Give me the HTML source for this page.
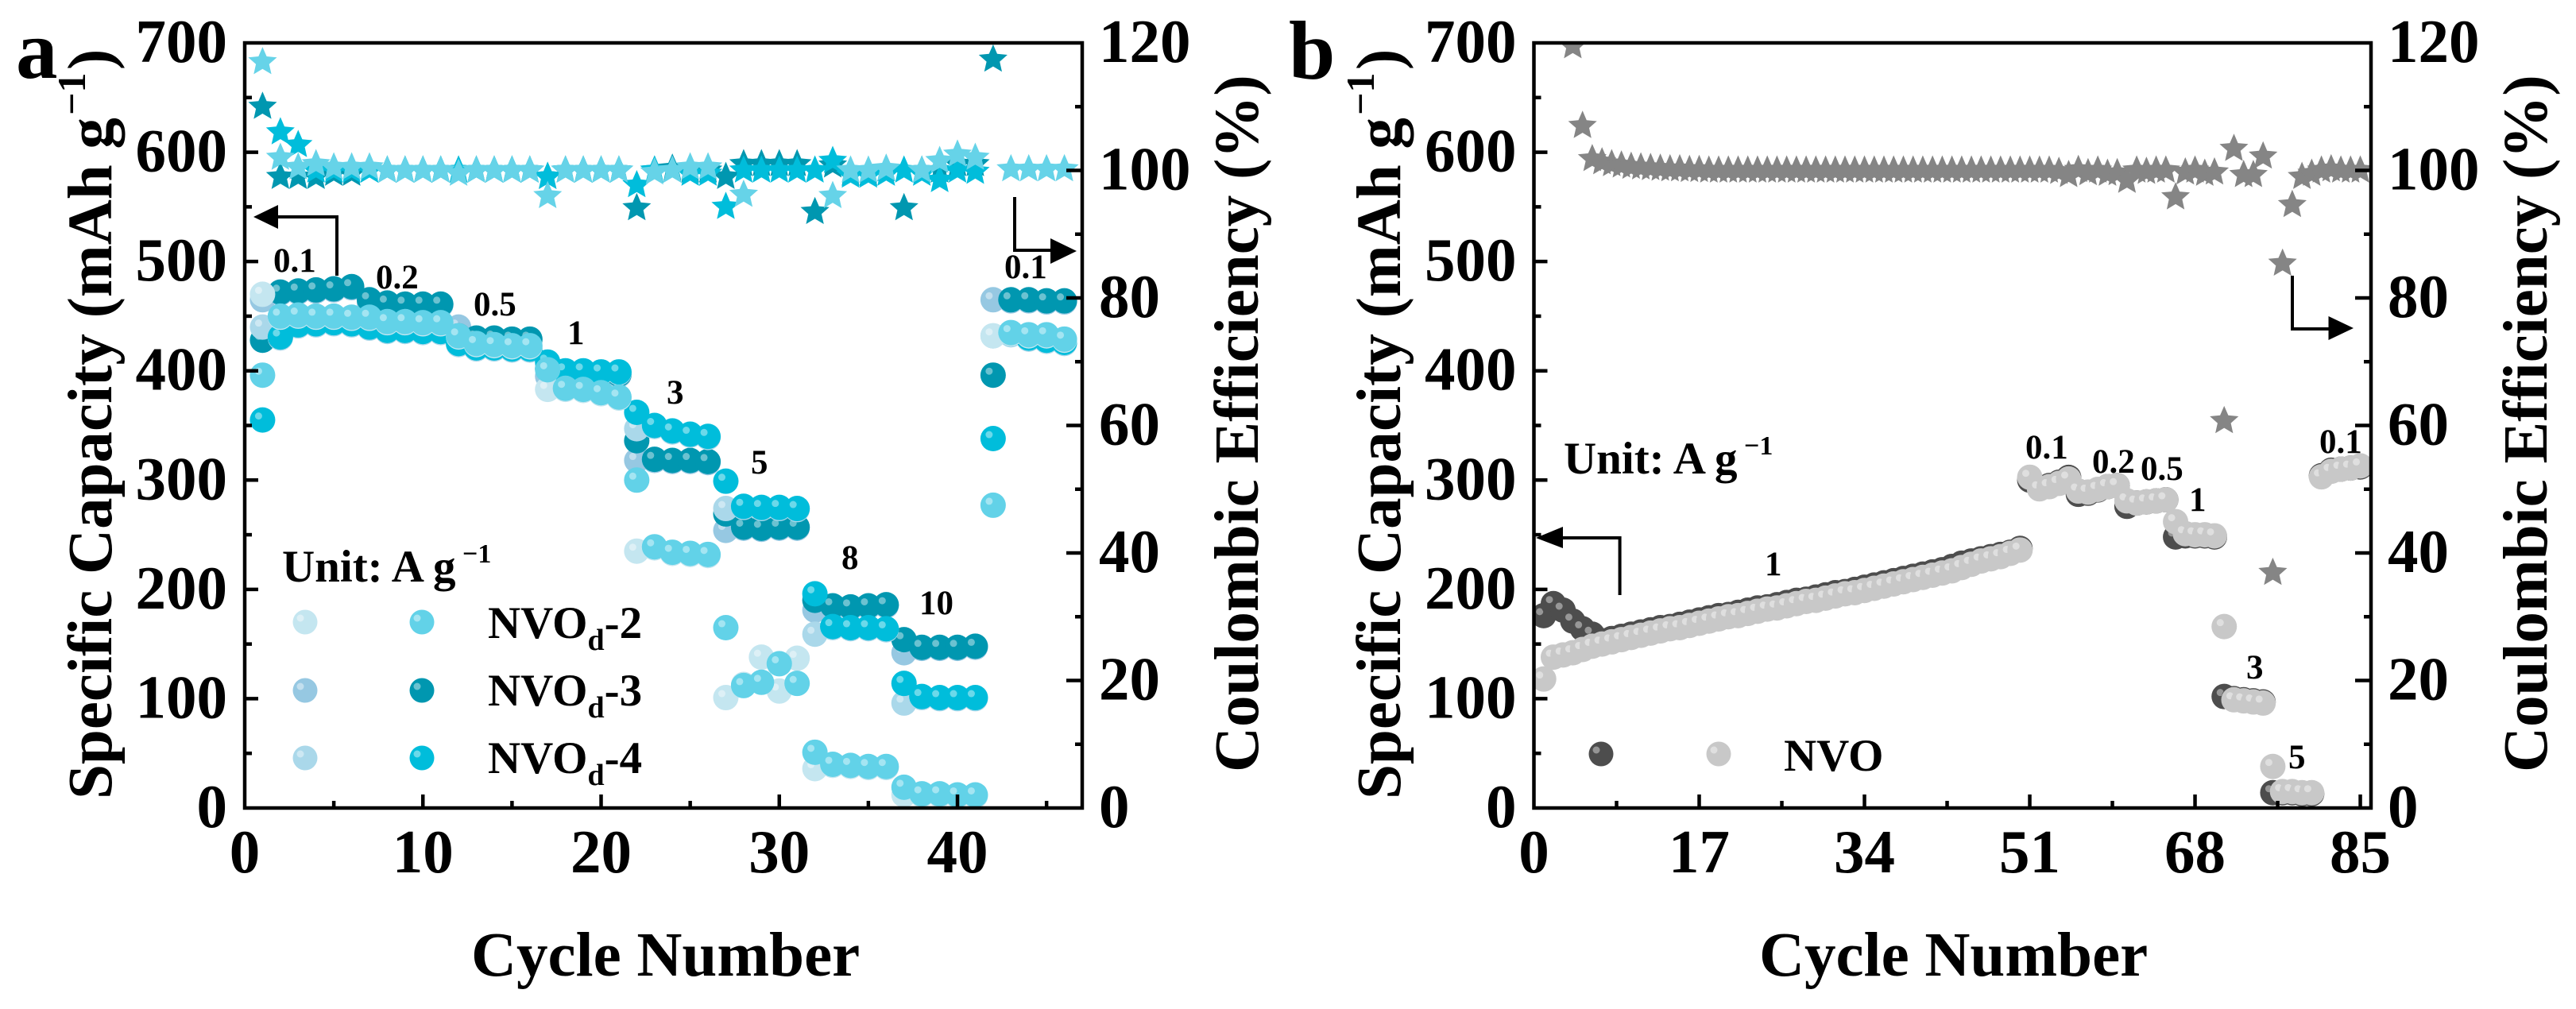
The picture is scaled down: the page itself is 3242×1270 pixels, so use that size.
<!DOCTYPE html>
<html lang="en">
<head>
<meta charset="utf-8">
<title>Rate performance and Coulombic efficiency of NVOd and NVO</title>
<style>
html,body{margin:0;padding:0;background:#fff;}
svg{display:block;}
text{font-family:"Liberation Serif",serif;font-weight:bold;fill:#000;}
.tick{font-size:77px;}
.title{font-size:79px;}
.sup{font-size:50px;}
.ann{font-size:43px;}
.leg{font-size:57px;}
.legsub{font-size:38px;}
.usup{font-size:34px;}
.letter{font-size:105px;}
.arr{fill:none;stroke:#000;stroke-width:4;}
</style>
</head>
<body>
<svg id="figure" xmlns="http://www.w3.org/2000/svg" width="3242" height="1270" viewBox="0 0 3242 1270">
  <defs>
    <clipPath id="clip-a"><rect x="308" y="54" width="1054" height="963"/></clipPath>
    <clipPath id="clip-b"><rect x="1930.5" y="54" width="1053.5" height="963"/></clipPath>
  </defs>
  <rect x="0" y="0" width="3242" height="1270" fill="#fff"/>

  <g id="marks-a" clip-path="url(#clip-a)"></g>
  <g id="marks-b" clip-path="url(#clip-b)"></g>
  <g id="axes"></g>

  <!-- Panel a text -->
  <text class="letter" x="20" y="98">a</text>
  <text class="title" transform="translate(140,1006) rotate(-90)">Specific Capacity (mAh g</text>
  <text class="sup" transform="translate(107,145) rotate(-90)">−1</text>
  <text class="title" transform="translate(140,88) rotate(-90)">)</text>
  <text class="title" transform="translate(1583,972) rotate(-90)">Coulombic Efficiency (%)</text>
  <text class="title" x="593" y="1228">Cycle Number</text>

  <text class="ann" x="344" y="342">0.1</text>
  <text class="ann" x="473" y="363">0.2</text>
  <text class="ann" x="596" y="397">0.5</text>
  <text class="ann" x="714" y="433">1</text>
  <text class="ann" x="839" y="508">3</text>
  <text class="ann" x="945" y="596">5</text>
  <text class="ann" x="1059" y="716">8</text>
  <text class="ann" x="1157" y="773">10</text>
  <text class="ann" x="1264" y="350">0.1</text>

  <text class="leg" x="355" y="732">Unit: A g</text>
  <text class="usup" x="582" y="708">−1</text>

  <g>
    <circle cx="384" cy="783" r="15.5" fill="#c4e6f0"/><circle cx="378" cy="778" r="4.5" fill="#fff" opacity=".42"/>
    <circle cx="531" cy="783" r="15.5" fill="#62d2e8"/><circle cx="525" cy="778" r="4.5" fill="#fff" opacity=".42"/>
    <text class="leg" x="614" y="803">NVO<tspan class="legsub" dy="15">d</tspan><tspan dy="-15">-2</tspan></text>
  </g>
  <g>
    <circle cx="384" cy="869" r="15.5" fill="#96c8e2"/><circle cx="378" cy="864" r="4.5" fill="#fff" opacity=".42"/>
    <circle cx="531" cy="869" r="15.5" fill="#0097b0"/><circle cx="525" cy="864" r="4.5" fill="#fff" opacity=".42"/>
    <text class="leg" x="614" y="888">NVO<tspan class="legsub" dy="15">d</tspan><tspan dy="-15">-3</tspan></text>
  </g>
  <g>
    <circle cx="384" cy="954" r="15.5" fill="#aad8ea"/><circle cx="378" cy="949" r="4.5" fill="#fff" opacity=".42"/>
    <circle cx="531" cy="954" r="15.5" fill="#00bddb"/><circle cx="525" cy="949" r="4.5" fill="#fff" opacity=".42"/>
    <text class="leg" x="614" y="973">NVO<tspan class="legsub" dy="15">d</tspan><tspan dy="-15">-4</tspan></text>
  </g>

  <g>
    <path class="arr" d="M424 347 V273 H345"/><path d="M319 273 L350 258 V288 Z" fill="#000"/>
  </g>
  <g>
    <path class="arr" d="M1277 248 V315 H1328"/><path d="M1355 316 L1322 300 V332 Z" fill="#000"/>
  </g>

  <!-- Panel b text -->
  <text class="letter" x="1622" y="99">b</text>
  <text class="title" transform="translate(1762,1006) rotate(-90)">Specific Capacity (mAh g</text>
  <text class="sup" transform="translate(1729,145) rotate(-90)">−1</text>
  <text class="title" transform="translate(1762,88) rotate(-90)">)</text>
  <text class="title" transform="translate(3205,972) rotate(-90)">Coulombic Efficiency (%)</text>
  <text class="title" x="2214" y="1228">Cycle Number</text>

  <text class="leg" x="1968" y="596">Unit: A g</text>
  <text class="usup" x="2195" y="572">−1</text>

  <text class="ann" x="2221" y="724">1</text>
  <text class="ann" x="2549" y="577">0.1</text>
  <text class="ann" x="2633" y="595">0.2</text>
  <text class="ann" x="2694" y="604">0.5</text>
  <text class="ann" x="2755" y="643">1</text>
  <text class="ann" x="2827" y="854">3</text>
  <text class="ann" x="2880" y="967">5</text>
  <text class="ann" x="2919" y="570">0.1</text>

  <g>
    <circle cx="2015" cy="949" r="15.5" fill="#4d4d4d"/><circle cx="2009" cy="944" r="4.5" fill="#fff" opacity=".4"/>
    <circle cx="2163" cy="949" r="15.5" fill="#c8c8c8"/><circle cx="2157" cy="944" r="4.5" fill="#fff" opacity=".42"/>
    <text class="leg" x="2245" y="970">NVO</text>
  </g>

  <g>
    <path class="arr" d="M2038.6 749 V677 H1960"/><path d="M1933 677 L1967 663 V690 Z" fill="#000"/>
  </g>
  <g>
    <path class="arr" d="M2885 347 V414 H2936"/><path d="M2962 413 L2930.5 398 V428 Z" fill="#000"/>
  </g>
</svg>

<script>
/* Panel a: capacity per cycle 1..46 (mAh/g) */
const d3Light = [465,471,472,473,474,476,462,461,460,460,460,440,429,429,428,428,395,397,397,396,396,318,318,317,317,316,254,256,255,256,256,181,184,183,184,185,142,146,146,146,147,465,464,464,463,463];
const d3Dark  = [428,472,473,474,475,477,465,462,461,461,461,432,430,430,429,429,402,398,398,397,397,336,319,318,318,317,269,257,256,257,257,190,185,184,185,186,154,147,147,147,148,396,465,465,464,464];
const d4Light = [440,430,441,442,443,442,439,436,436,435,435,424,420,420,419,419,404,399,399,398,398,347,349,344,341,339,274,275,274,274,273,159,165,164,164,163,96,101,100,100,100,432,433,429,427,425];
const d4Dark  = [355,431,442,443,444,443,440,437,437,436,436,425,421,421,420,420,408,400,400,399,399,362,350,345,342,340,299,276,275,275,274,196,166,165,165,164,114,102,101,101,101,338,434,430,428,426];
const d2Light = [470,449,450,449,449,448,448,444,444,443,443,431,424,423,422,422,383,383,382,379,375,235,238,233,232,231,101,113,138,107,137,36,39,38,37,37,12,12,12,11,11,432,434,432,432,428];
const d2Dark  = [396,450,451,450,450,449,449,445,445,444,444,432,425,424,423,423,401,384,383,380,376,300,239,234,233,232,165,112,115,132,114,51,40,39,38,38,19,13,13,12,12,277,435,433,433,429];

/* Panel a: Coulombic efficiency per cycle 1..46 (%), null = hidden point */
const d3Eff = [110,99,99,99,99.5,99.5,100,100,100,100,100,100,100,100,100,100,99,100,100,100,100,94.1,100,100.3,100,100,99,101,101,101,101,93.5,100.8,99.5,99.5,100.2,94.1,100,100,101,101,117.4,null,null,null,null];
const d4Eff = [null,106,104,100,100,100,100,100,100,100,100,100,100,100,100,100,99,100,100,100,100,97.7,100,100,99.5,99.5,94.3,100,100,100,100,100,101.5,99.2,99.2,99.5,100,99.5,98.5,100,99.8,null,null,null,null,null];
const d2Eff = [117,102,100.5,101,100.5,100.5,100.5,100,100,100,100,99.5,100,100,100,100,96,100,100,100,100,null,99.7,100,100.5,100.5,null,96.2,null,null,null,null,96,100,100,100.3,null,100,101.5,102.5,102,null,100.2,100.2,100.2,100.2];

/* Panel b: capacity per cycle 1..85 (mAh/g) */
const nvoDark = [176,187,181,171,164,159,153,155,157,159,161,163,165,166,168,170,172,174,176,177,179,181,183,184,186,188,190,191,193,195,197,198,200,202,204,206,208,210,212,214,216,218,221,224,226,228,230,232,234,237.5,300,293,295,298,302.5,287,288,291,294,295,276,279,280,281,282,248,249,249,249,248,102,100,99,98,97,14,14,14,13,13,304,309,310,311,312];
const nvoLight = [118,138,140,142,145,148,150,152,154,156,158,160,162,164,165,167,169,171,173,175,176,178,180,182,183,185,187,189,190,192,194,196,197,199,201,203,205,207,209,211,213,215,217,220,223,226,228,230,233,236,302.6,292,294,297,301,290,289,291.5,294,295,281,279,280,281,282,262,251,250,250,249,166,99,98,97,96,38,15,15,14,14,303,308,310,311,313];
const nvoEff = [null,null,null,119.5,107,101.8,101.3,101,100.8,100.6,100.5,100.4,100.3,100.2,100.2,100.1,100.1,100,100,100,100,100,100,100,100,100,100,100,100,100,100,100,100,100,100,100,100,100,100,100,100,100,100,100,100,100,100,100,100,100,100,100,100,99.8,99.3,100.1,99.6,100,99.5,99.6,98.4,100,99.8,100,100,95.8,99.7,100,99.5,99.7,60.7,103.4,99.3,99.3,102.2,36.9,85.4,94.6,99,99.5,100,100.2,100,100,100];

/* Axis tick values */
const yCapTicks = [0,100,200,300,400,500,600,700];
const yEffTicks = [0,20,40,60,80,100,120];
const xTicksA = [0,10,20,30,40];
const xTicksB = [0,17,34,51,68,85];

const SVGNS = 'http://www.w3.org/2000/svg';
const Y_TOP = 54, Y_BOT = 1017;
const capY = v => Y_BOT - (v / 700) * (Y_BOT - Y_TOP);
const effY = v => Y_BOT - (v / 120) * (Y_BOT - Y_TOP);
const xA = c => 308 + (c / 47) * 1054;
const xB = c => 1930.5 + (c / 86.1) * 1053.5;

function mk(tag, attrs) {
  const el = document.createElementNS(SVGNS, tag);
  for (const k in attrs) el.setAttribute(k, attrs[k]);
  return el;
}

function starPath(cx, cy, R) {
  let d = '';
  for (let i = 0; i < 10; i++) {
    const r = i % 2 ? R * 0.46 : R;
    const a = -Math.PI / 2 + i * Math.PI / 5;
    d += (i ? 'L' : 'M') + (cx + r * Math.cos(a)).toFixed(1) + ' ' + (cy + r * Math.sin(a)).toFixed(1);
  }
  return d + 'Z';
}

function drawDots(parent, values, xFn, color, name) {
  const g = mk('g', {});
  
  
  values.forEach((v, i) => {
    const cx = xFn(i + 1), cy = capY(v);
    const dot = mk('g', {});
    
    
    dot.appendChild(mk('circle', {cx: cx, cy: cy, r: 16, fill: color}));
    dot.appendChild(mk('circle', {cx: cx - 5, cy: cy - 5, r: 4.5, fill: '#fff', opacity: 0.42}));
    g.appendChild(dot);
  });
  parent.appendChild(g);
}

function drawStars(parent, values, xFn, color, name) {
  const g = mk('g', {});
  
  
  values.forEach((v, i) => {
    if (v === null) return;
    const star = mk('path', {d: starPath(xFn(i + 1), effY(v), 19), fill: color});
    
    
    g.appendChild(star);
  });
  parent.appendChild(g);
}

function addLine(parent, x1, y1, x2, y2, w, name) {
  const l = mk('line', {x1: x1, y1: y1, x2: x2, y2: y2, stroke: '#000', 'stroke-width': w});
  
  
  parent.appendChild(l);
}

function addLabel(parent, x, y, anchor, str, name) {
  const t = mk('text', {x: x, y: y, 'text-anchor': anchor, class: 'tick'});
  t.textContent = str;
  
  
  parent.appendChild(t);
}

function drawAxes(parent, left, right, xFn, xTicks, xMax) {
  const box = mk('rect', {x: left, y: Y_TOP, width: right - left, height: Y_BOT - Y_TOP, fill: 'none', stroke: '#000', 'stroke-width': 4.5});
  
  
  parent.appendChild(box);

  yCapTicks.forEach((v, i) => {
    const y = capY(v);
    if (v > 0 && v < 700) addLine(parent, left, y, left + 17, y, 4.5, 'left-major-tick');
    addLabel(parent, left - 22, y + 24, 'end', String(v), 'left-tick-label');
    if (i < yCapTicks.length - 1) {
      const m = capY((v + yCapTicks[i + 1]) / 2);
      addLine(parent, left, m, left + 9, m, 4.5, 'left-minor-tick');
    }
  });
  yEffTicks.forEach((v, i) => {
    const y = effY(v);
    if (v > 0 && v < 120) addLine(parent, right - 20, y, right, y, 4.5, 'right-major-tick');
    addLabel(parent, right + 21, y + 24, 'start', String(v), 'right-tick-label');
    if (i < yEffTicks.length - 1) {
      const m = effY((v + yEffTicks[i + 1]) / 2);
      addLine(parent, right - 9, m, right, m, 4.5, 'right-minor-tick');
    }
  });
  xTicks.forEach((v, i) => {
    const x = xFn(v);
    if (v > 0) addLine(parent, x, Y_BOT - 17, x, Y_BOT, 4.5, 'x-major-tick');
    addLabel(parent, x, 1098, 'middle', String(v), 'x-tick-label');
    const step = xTicks[1] - xTicks[0];
    const mv = v + step / 2;
    if (mv < xMax) {
      const m = xFn(mv);
      addLine(parent, m, Y_BOT - 9, m, Y_BOT, 4.5, 'x-minor-tick');
    }
  });
}

const marksA = document.getElementById('marks-a');
const marksB = document.getElementById('marks-b');
const axes = document.getElementById('axes');

drawStars(marksA, d3Eff, xA, '#0097b0', 'series-nvod-3-efficiency');
drawStars(marksA, d4Eff, xA, '#00bddb', 'series-nvod-4-efficiency');
drawStars(marksA, d2Eff, xA, '#66d3e8', 'series-nvod-2-efficiency');
drawDots(marksA, d3Light, xA, '#96c8e2', 'series-nvod-3-charge');
drawDots(marksA, d3Dark, xA, '#0097b0', 'series-nvod-3-discharge');
drawDots(marksA, d4Light, xA, '#aad8ea', 'series-nvod-4-charge');
drawDots(marksA, d4Dark, xA, '#00bddb', 'series-nvod-4-discharge');
drawDots(marksA, d2Light, xA, '#c4e6f0', 'series-nvod-2-charge');
drawDots(marksA, d2Dark, xA, '#62d2e8', 'series-nvod-2-discharge');

drawStars(marksB, nvoEff, xB, '#858585', 'series-nvo-efficiency');
drawDots(marksB, nvoDark, xB, '#4d4d4d', 'series-nvo-charge');
drawDots(marksB, nvoLight, xB, '#c8c8c8', 'series-nvo-discharge');

drawAxes(axes, 308, 1362, xA, xTicksA, 47);
drawAxes(axes, 1930.5, 2984, xB, xTicksB, 86.1);
</script>
</body>
</html>
